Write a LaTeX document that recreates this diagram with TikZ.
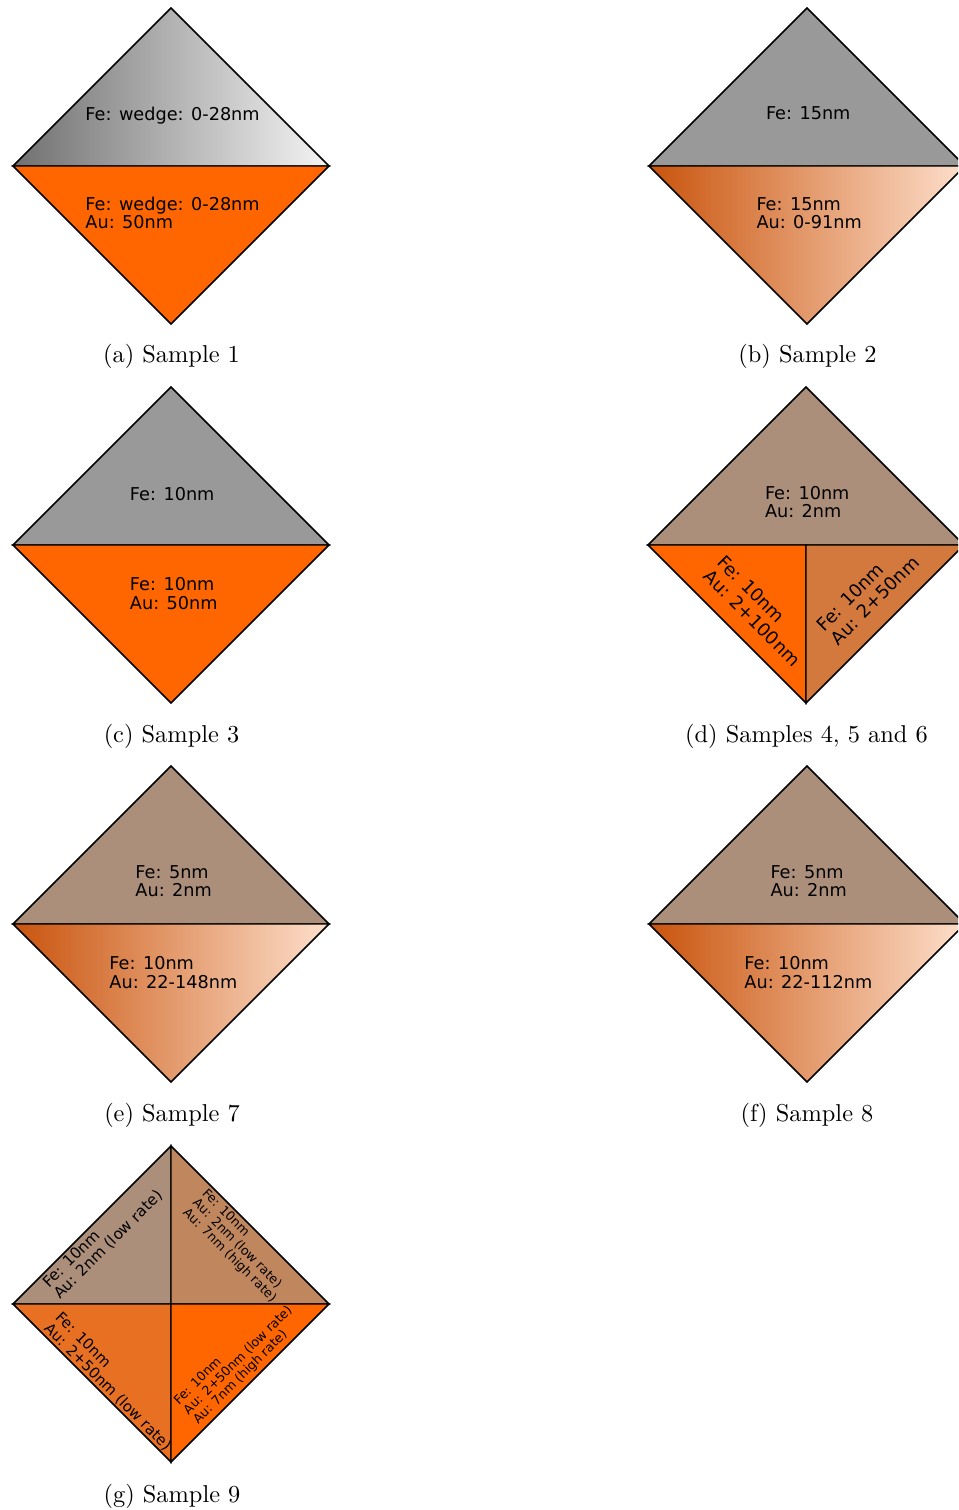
\documentclass[tikz,border=0pt]{standalone}
\usepackage{fontspec}
\newfontfamily\labelfont{DejaVu Sans}
\definecolor{feGray}{HTML}{999999}
\definecolor{auOrange}{HTML}{FF6600}
\definecolor{capBrown}{HTML}{AC8F7A}
\definecolor{auCopper}{HTML}{D4793D}
\definecolor{auTan}{HTML}{C0875E}
\definecolor{auAmber}{HTML}{E87022}
\definecolor{cuDark}{HTML}{C9540D}
\definecolor{cuLight}{HTML}{FDDFCB}
\definecolor{wedgeDark}{HTML}{707070}
\definecolor{wedgeLight}{HTML}{F4F4F4}

\begin{document}
\begin{tikzpicture}[x=0.41pt,y=-0.41pt,
  half/.style={draw=black,line width=0.6pt},
  lbl/.style={font=\labelfont\fontsize{7.25}{7.4}\selectfont,align=left,inner sep=0pt,anchor=base west},
  lblbig/.style={font=\labelfont\fontsize{7.4}{8.1}\selectfont,align=left,inner sep=0pt,anchor=base west},
  lblmid/.style={font=\labelfont\fontsize{6.1}{6.5}\selectfont,align=left,inner sep=0pt,anchor=base west},
  lblsmall/.style={font=\labelfont\fontsize{5.2}{5.6}\selectfont,align=left,inner sep=0pt,anchor=base west},
  capt/.style={inner sep=0pt}]
\useasboundingbox (0,0) rectangle (958,1510);
\clip (0,0) rectangle (958,1510);

% (a) Sample 1
\path[half,left color=wedgeDark,right color=wedgeLight] (13,166)--(171,8)--(329,166)--cycle;
\path[half,fill=auOrange] (13,166)--(171,324)--(329,166)--cycle;
\node[lbl] (s1fe) at (85,120.5) {Fe: wedge: 0-28nm};
\node[lbl] (s1au) at (85,228.5) {Fe: wedge: 0-28nm\\Au: 50nm};
\node[capt] (capa) at (171.5,356) {(a) Sample 1};

% (b) Sample 2
\path[half,fill=feGray] (649,166)--(807,8)--(965,166)--cycle;
\path[half,left color=cuDark,right color=cuLight] (649,166)--(807,324)--(965,166)--cycle;
\node[lbl] (s2fe) at (765.5,120) {Fe: 15nm};
\node[lbl] (s2au) at (756,228.5) {Fe: 15nm\\Au: 0-91nm};
\node[capt] (capb) at (807.5,356) {(b) Sample 2};

% (c) Sample 3
\path[half,fill=feGray] (13,545)--(171,387)--(329,545)--cycle;
\path[half,fill=auOrange] (13,545)--(171,703)--(329,545)--cycle;
\node[lbl] (s3fe) at (129.5,500.5) {Fe: 10nm};
\node[lbl] (s3au) at (129.5,609) {Fe: 10nm\\Au: 50nm};
\node[capt] (capc) at (171.5,736) {(c) Sample 3};

% (d) Samples 4, 5 and 6
\path[half,fill=capBrown] (648,545)--(806,387)--(964,545)--cycle;
\path[half,fill=auOrange] (648,545)--(806,703)--(806,545)--cycle;
\path[half,fill=auCopper] (806,545)--(806,703)--(964,545)--cycle;
\node[lbl] (s4cap) at (764.5,517.5) {Fe: 10nm\\Au: 2nm};
\node[lblbig,rotate=-45] (s4thick) at (702,577) {Fe: 10nm\\Au: 2+100nm};
\node[lblbig,rotate=45] (s5thin) at (838,646.5) {Fe: 10nm\\Au: 2+50nm};
\node[capt] (capd) at (806.5,736) {(d) Samples 4, 5 and 6};

% (e) Sample 7
\path[half,fill=capBrown] (13,924)--(171,766)--(329,924)--cycle;
\path[half,left color=cuDark,right color=cuLight] (13,924)--(171,1082)--(329,924)--cycle;
\node[lbl] (s7cap) at (135,896.5) {Fe: 5nm\\Au: 2nm};
\node[lbl] (s7au) at (109,988) {Fe: 10nm\\Au: 22-148nm};
\node[capt] (cape) at (172,1115) {(e) Sample 7};

% (f) Sample 8
\path[half,fill=capBrown] (649,924)--(807,766)--(965,924)--cycle;
\path[half,left color=cuDark,right color=cuLight] (649,924)--(807,1082)--(965,924)--cycle;
\node[lbl] (s8cap) at (770,896.5) {Fe: 5nm\\Au: 2nm};
\node[lbl] (s8au) at (744,988) {Fe: 10nm\\Au: 22-112nm};
\node[capt] (capf) at (807,1115) {(f) Sample 8};

% (g) Sample 9
\path[half,fill=capBrown] (13,1304)--(171,1146)--(171,1304)--cycle;
\path[half,fill=auTan] (171,1146)--(329,1304)--(171,1304)--cycle;
\path[half,fill=auAmber] (13,1304)--(171,1304)--(171,1462)--cycle;
\path[half,fill=auOrange] (171,1304)--(329,1304)--(171,1462)--cycle;
\node[lblmid,font=\labelfont\fontsize{6.3}{6.5}\selectfont,rotate=45] (s9a) at (60,1300) {Fe: 10nm\\Au: 2nm (low rate)};
\node[lblsmall,rotate=-45] (s9b) at (182,1213) {Fe: 10nm\\Au: 2nm (low rate)\\Au: 7nm (high rate)};
\node[lblmid,rotate=-45] (s9c) at (43,1329) {Fe: 10nm\\Au: 2+50nm (low rate)};
\node[lblsmall,rotate=45] (s9d) at (198,1425) {Fe: 10nm\\Au: 2+50nm (low rate)\\Au: 7nm (high rate)};
\node[capt] (capg) at (172,1496) {(g) Sample 9};
\end{tikzpicture}
\end{document}
